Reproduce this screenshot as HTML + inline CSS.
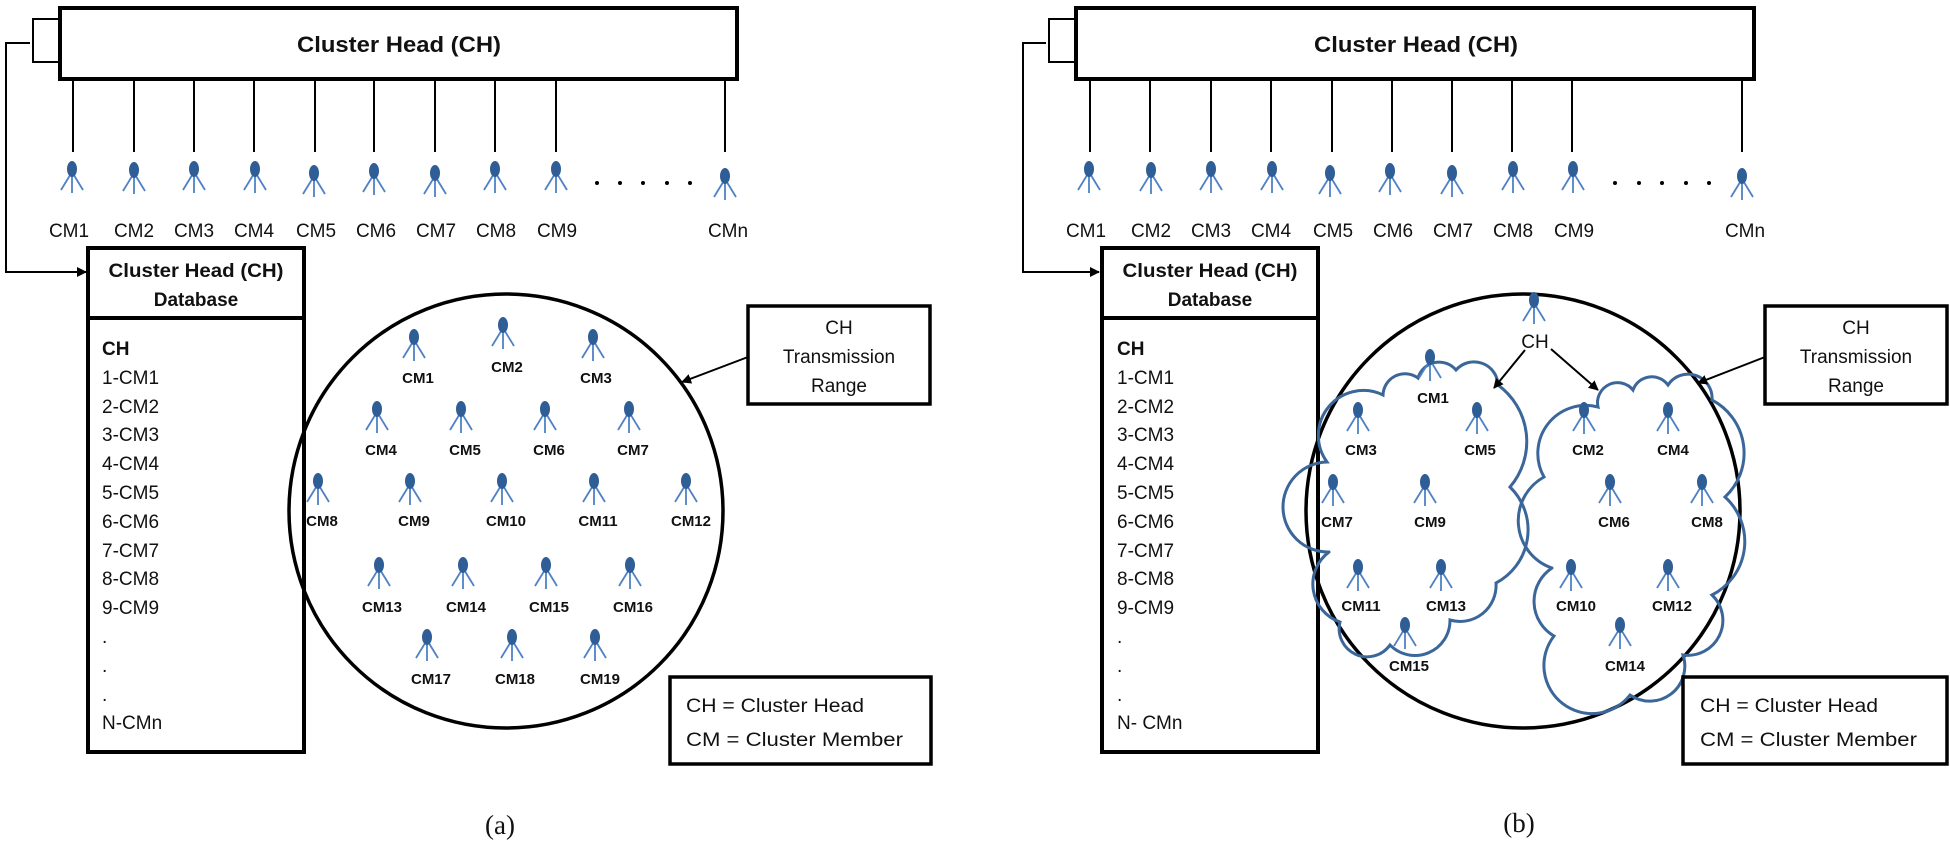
<!DOCTYPE html>
<html><head><meta charset="utf-8"><style>
html,body{margin:0;padding:0;background:#fff;}
svg{display:block;}
text{font-family:"Liberation Sans",sans-serif;fill:#111;}
.t{font-size:19px;}
.b{font-weight:bold;}
.n{font-size:15px;font-weight:bold;}
</style></head><body>
<svg width="1950" height="846" viewBox="0 0 1950 846" xmlns="http://www.w3.org/2000/svg">
<defs>
<g id="nd">
<line x1="0" y1="10" x2="0" y2="31" stroke="#4f81c4" stroke-width="1.8"/>
<line x1="0" y1="10" x2="-11" y2="28" stroke="#4f81c4" stroke-width="1.8"/>
<line x1="0" y1="10" x2="11" y2="28" stroke="#4f81c4" stroke-width="1.8"/>
<ellipse cx="0" cy="7" rx="5" ry="8" fill="#2f5d96"/>
</g>
<marker id="ar" markerWidth="10" markerHeight="10" refX="9" refY="5" orient="auto" markerUnits="userSpaceOnUse">
<path d="M0,0 L10,5 L0,10 z" fill="#000"/>
</marker>
</defs>

<!-- ================= PANEL A ================= -->
<g id="pa">
<rect x="33" y="19" width="27" height="43" fill="#fff" stroke="#000" stroke-width="2"/>
<rect x="60" y="8" width="677" height="71" fill="#fff" stroke="#000" stroke-width="4"/>
<text x="399" y="52" class="b" font-size="22" text-anchor="middle" textLength="204" lengthAdjust="spacingAndGlyphs">Cluster Head (CH)</text>
<polyline points="30,43 6,43 6,272 86,272" fill="none" stroke="#000" stroke-width="2" marker-end="url(#ar)"/>
<g stroke="#000" stroke-width="2">
<line x1="73" y1="80" x2="73" y2="152"/><line x1="134" y1="80" x2="134" y2="152"/>
<line x1="194" y1="80" x2="194" y2="152"/><line x1="254" y1="80" x2="254" y2="152"/>
<line x1="315" y1="80" x2="315" y2="152"/><line x1="374" y1="80" x2="374" y2="152"/>
<line x1="435" y1="80" x2="435" y2="152"/><line x1="495" y1="80" x2="495" y2="152"/>
<line x1="556" y1="80" x2="556" y2="152"/><line x1="725" y1="80" x2="725" y2="152"/>
</g>
<use href="#nd" x="72" y="162"/><use href="#nd" x="134" y="163"/><use href="#nd" x="194" y="162"/>
<use href="#nd" x="255" y="162"/><use href="#nd" x="314" y="166"/><use href="#nd" x="374" y="164"/>
<use href="#nd" x="435" y="166"/><use href="#nd" x="495" y="162"/><use href="#nd" x="556" y="162"/>
<use href="#nd" x="725" y="169"/>
<g fill="#000"><circle cx="597" cy="183" r="2"/><circle cx="620" cy="183" r="2"/><circle cx="643" cy="183" r="2"/><circle cx="667" cy="183" r="2"/><circle cx="690" cy="183" r="2"/></g>
<g class="t" text-anchor="middle">
<text x="69" y="237">CM1</text><text x="134" y="237">CM2</text><text x="194" y="237">CM3</text>
<text x="254" y="237">CM4</text><text x="316" y="237">CM5</text><text x="376" y="237">CM6</text>
<text x="436" y="237">CM7</text><text x="496" y="237">CM8</text><text x="557" y="237">CM9</text>
<text x="728" y="237">CMn</text>
</g>
<!-- database -->
<rect x="88" y="248" width="216" height="504" fill="#fff" stroke="#000" stroke-width="4"/>
<line x1="88" y1="318" x2="304" y2="318" stroke="#000" stroke-width="4"/>
<text x="196" y="277" class="b" font-size="19" text-anchor="middle" textLength="175" lengthAdjust="spacingAndGlyphs">Cluster Head (CH)</text>
<text x="196" y="306" class="b" font-size="19" text-anchor="middle">Database</text>
<g class="t">
<text x="102" y="355" class="b">CH</text>
<text x="102" y="384">1-CM1</text><text x="102" y="413">2-CM2</text><text x="102" y="441">3-CM3</text>
<text x="102" y="470">4-CM4</text><text x="102" y="499">5-CM5</text><text x="102" y="528">6-CM6</text>
<text x="102" y="557">7-CM7</text><text x="102" y="585">8-CM8</text><text x="102" y="614">9-CM9</text>
<text x="102" y="643">.</text><text x="102" y="672">.</text><text x="102" y="701">.</text>
<text x="102" y="729">N-CMn</text>
</g>
<circle cx="506" cy="511" r="217" fill="none" stroke="#000" stroke-width="3.5"/>
<use href="#nd" x="414" y="330"/><use href="#nd" x="503" y="318"/><use href="#nd" x="593" y="330"/>
<use href="#nd" x="377" y="402"/><use href="#nd" x="461" y="402"/><use href="#nd" x="545" y="402"/><use href="#nd" x="629" y="402"/>
<use href="#nd" x="318" y="474"/><use href="#nd" x="410" y="474"/><use href="#nd" x="502" y="474"/><use href="#nd" x="594" y="474"/><use href="#nd" x="686" y="474"/>
<use href="#nd" x="379" y="558"/><use href="#nd" x="463" y="558"/><use href="#nd" x="546" y="558"/><use href="#nd" x="630" y="558"/>
<use href="#nd" x="427" y="630"/><use href="#nd" x="512" y="630"/><use href="#nd" x="595" y="630"/>
<g class="n" text-anchor="middle">
<text x="418" y="383">CM1</text><text x="507" y="372">CM2</text><text x="596" y="383">CM3</text>
<text x="381" y="455">CM4</text><text x="465" y="455">CM5</text><text x="549" y="455">CM6</text><text x="633" y="455">CM7</text>
<text x="322" y="526">CM8</text><text x="414" y="526">CM9</text><text x="506" y="526">CM10</text><text x="598" y="526">CM11</text><text x="691" y="526">CM12</text>
<text x="382" y="612">CM13</text><text x="466" y="612">CM14</text><text x="549" y="612">CM15</text><text x="633" y="612">CM16</text>
<text x="431" y="684">CM17</text><text x="515" y="684">CM18</text><text x="600" y="684">CM19</text>
</g>
<rect x="748" y="306" width="182" height="98" fill="#fff" stroke="#000" stroke-width="3.5"/>
<g class="t" text-anchor="middle"><text x="839" y="334">CH</text><text x="839" y="363">Transmission</text><text x="839" y="392">Range</text></g>
<line x1="748" y1="357" x2="682" y2="382" stroke="#000" stroke-width="2" marker-end="url(#ar)"/>
<rect x="670" y="677" width="261" height="87" fill="#fff" stroke="#000" stroke-width="3.5"/>
<text x="686" y="712" class="t" textLength="178" lengthAdjust="spacingAndGlyphs">CH = Cluster Head</text>
<text x="686" y="746" class="t" textLength="217" lengthAdjust="spacingAndGlyphs">CM = Cluster Member</text>
<text x="500" y="834" font-family="Liberation Serif" font-size="27" text-anchor="middle" style="font-family:'Liberation Serif',serif">(a)</text>
</g>

<!-- ================= PANEL B ================= -->
<g>
<rect x="1049" y="19" width="27" height="43" fill="#fff" stroke="#000" stroke-width="2"/>
<rect x="1076" y="8" width="678" height="71" fill="#fff" stroke="#000" stroke-width="4"/>
<text x="1416" y="52" class="b" font-size="22" text-anchor="middle" textLength="204" lengthAdjust="spacingAndGlyphs">Cluster Head (CH)</text>
<polyline points="1046,43 1023,43 1023,272 1099,272" fill="none" stroke="#000" stroke-width="2" marker-end="url(#ar)"/>
<g stroke="#000" stroke-width="2">
<line x1="1090" y1="80" x2="1090" y2="152"/><line x1="1150" y1="80" x2="1150" y2="152"/>
<line x1="1211" y1="80" x2="1211" y2="152"/><line x1="1271" y1="80" x2="1271" y2="152"/>
<line x1="1332" y1="80" x2="1332" y2="152"/><line x1="1392" y1="80" x2="1392" y2="152"/>
<line x1="1452" y1="80" x2="1452" y2="152"/><line x1="1512" y1="80" x2="1512" y2="152"/>
<line x1="1572" y1="80" x2="1572" y2="152"/><line x1="1742" y1="80" x2="1742" y2="152"/>
</g>
<use href="#nd" x="1089" y="162"/><use href="#nd" x="1151" y="163"/><use href="#nd" x="1211" y="162"/>
<use href="#nd" x="1272" y="162"/><use href="#nd" x="1330" y="166"/><use href="#nd" x="1390" y="164"/>
<use href="#nd" x="1452" y="166"/><use href="#nd" x="1513" y="162"/><use href="#nd" x="1573" y="162"/>
<use href="#nd" x="1742" y="169"/>
<g fill="#000"><circle cx="1615" cy="183" r="2"/><circle cx="1639" cy="183" r="2"/><circle cx="1662" cy="183" r="2"/><circle cx="1686" cy="183" r="2"/><circle cx="1709" cy="183" r="2"/></g>
<g class="t" text-anchor="middle">
<text x="1086" y="237">CM1</text><text x="1151" y="237">CM2</text><text x="1211" y="237">CM3</text>
<text x="1271" y="237">CM4</text><text x="1333" y="237">CM5</text><text x="1393" y="237">CM6</text>
<text x="1453" y="237">CM7</text><text x="1513" y="237">CM8</text><text x="1574" y="237">CM9</text>
<text x="1745" y="237">CMn</text>
</g>
<rect x="1102" y="248" width="216" height="504" fill="#fff" stroke="#000" stroke-width="4"/>
<line x1="1102" y1="318" x2="1318" y2="318" stroke="#000" stroke-width="4"/>
<text x="1210" y="277" class="b" font-size="19" text-anchor="middle" textLength="175" lengthAdjust="spacingAndGlyphs">Cluster Head (CH)</text>
<text x="1210" y="306" class="b" font-size="19" text-anchor="middle">Database</text>
<g class="t">
<text x="1117" y="355" class="b">CH</text>
<text x="1117" y="384">1-CM1</text><text x="1117" y="413">2-CM2</text><text x="1117" y="441">3-CM3</text>
<text x="1117" y="470">4-CM4</text><text x="1117" y="499">5-CM5</text><text x="1117" y="528">6-CM6</text>
<text x="1117" y="557">7-CM7</text><text x="1117" y="585">8-CM8</text><text x="1117" y="614">9-CM9</text>
<text x="1117" y="643">.</text><text x="1117" y="672">.</text><text x="1117" y="701">.</text>
<text x="1117" y="729">N- CMn</text>
</g>
<circle cx="1523" cy="511" r="217" fill="none" stroke="#000" stroke-width="3.5"/>
<!-- clouds -->
<g fill="none" stroke="#3b6699" stroke-width="3" stroke-linecap="round">
<path d="M1329,552 A40,40 0 0 1 1327,462 A45,45 0 0 1 1383,395 A22,22 0 0 1 1418,378 A22,22 0 0 1 1456,370 A24,24 0 0 1 1498,385 A70,70 0 0 1 1510,487 A60,60 0 0 1 1496,583 A36,36 0 0 1 1450,620 A35,35 0 0 1 1390,645 A28,28 0 0 1 1340,622 A40,40 0 0 1 1329,552"/>
<path d="M1552,568 A50,50 0 0 1 1544,477 A48,48 0 0 1 1598,407 A20,20 0 0 1 1633,390 A20,20 0 0 1 1668,385 A24,24 0 0 1 1712,400 A60,60 0 0 1 1725,497 A60,60 0 0 1 1712,595 A35,35 0 0 1 1683,655 A35,35 0 0 1 1630,695 A30,30 0 0 1 1554,636 A40,40 0 0 1 1552,568"/>
</g>
<use href="#nd" x="1534" y="293"/>
<use href="#nd" x="1430" y="350"/>
<use href="#nd" x="1358" y="403"/><use href="#nd" x="1477" y="403"/><use href="#nd" x="1584" y="403"/><use href="#nd" x="1668" y="403"/>
<use href="#nd" x="1333" y="475"/><use href="#nd" x="1425" y="475"/><use href="#nd" x="1610" y="475"/><use href="#nd" x="1702" y="475"/>
<use href="#nd" x="1358" y="560"/><use href="#nd" x="1441" y="560"/><use href="#nd" x="1571" y="560"/><use href="#nd" x="1668" y="560"/>
<use href="#nd" x="1405" y="618"/><use href="#nd" x="1620" y="618"/>
<text x="1535" y="348" class="t" text-anchor="middle">CH</text>
<line x1="1525" y1="350" x2="1494" y2="388" stroke="#000" stroke-width="2" marker-end="url(#ar)"/>
<line x1="1551" y1="349" x2="1598" y2="390" stroke="#000" stroke-width="2" marker-end="url(#ar)"/>
<g class="n" text-anchor="middle">
<text x="1433" y="403">CM1</text>
<text x="1361" y="455">CM3</text><text x="1480" y="455">CM5</text><text x="1588" y="455">CM2</text><text x="1673" y="455">CM4</text>
<text x="1337" y="527">CM7</text><text x="1430" y="527">CM9</text><text x="1614" y="527">CM6</text><text x="1707" y="527">CM8</text>
<text x="1361" y="611">CM11</text><text x="1446" y="611">CM13</text><text x="1576" y="611">CM10</text><text x="1672" y="611">CM12</text>
<text x="1409" y="671">CM15</text><text x="1625" y="671">CM14</text>
</g>
<rect x="1765" y="306" width="182" height="98" fill="#fff" stroke="#000" stroke-width="3.5"/>
<g class="t" text-anchor="middle"><text x="1856" y="334">CH</text><text x="1856" y="363">Transmission</text><text x="1856" y="392">Range</text></g>
<line x1="1765" y1="357" x2="1698" y2="383" stroke="#000" stroke-width="2" marker-end="url(#ar)"/>
<rect x="1683" y="677" width="264" height="87" fill="#fff" stroke="#000" stroke-width="3.5"/>
<text x="1700" y="712" class="t" textLength="178" lengthAdjust="spacingAndGlyphs">CH = Cluster Head</text>
<text x="1700" y="746" class="t" textLength="217" lengthAdjust="spacingAndGlyphs">CM = Cluster Member</text>
<text x="1519" y="832" font-size="27" text-anchor="middle" style="font-family:'Liberation Serif',serif">(b)</text>
</g>
</svg>
</body></html>
